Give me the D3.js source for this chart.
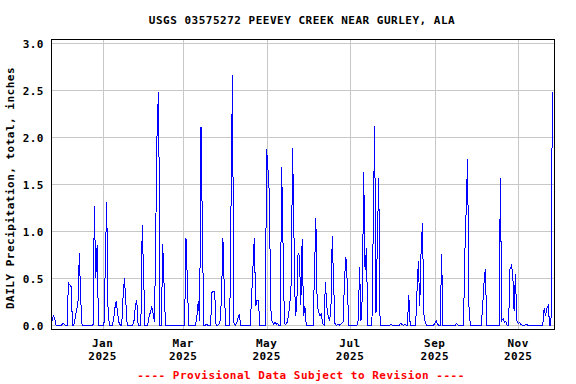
<!DOCTYPE html>
<meta charset="utf-8">
<style>

body {
	margin: 0;
	background-color: #fff;
}

text {
	font-family: "DejaVu Sans Mono", monospace;
	font-weight: bold;
	font-size: 11px;
	letter-spacing: 0.5px;
	fill: #000;
}

.grid line {
	stroke: #c8c8c8;
	stroke-width: 1px;
	shape-rendering: crispEdges;
}

.grid path {
	display: none;
}

.notice {
	fill: #f00;
}

</style>
<body>

<svg width="576" height="384"></svg>

<script src="https://d3js.org/d3.v7.min.js"></script>

<script>

// daily precipitation totals, inches (one array per month, first value = first day shown)
var nov2024 = [0.04, 0.10, 0.07, 0, 0, 0];   // Nov 25 - Nov 30
var dec2024 = [0, 0, 0.02, 0.01, 0, 0, 0.45, 0.43, 0.41, 0,
               0, 0.08, 0.16, 0.25, 0.77, 0.27, 0, 0, 0, 0,
               0, 0, 0, 0, 0, 1.27, 0.5, 0.85, 0, 0, 0];
var jan2025 = [0, 0, 0.65, 1.31, 0.16, 0, 0, 0, 0.05, 0.18,
               0.26, 0.13, 0.03, 0, 0, 0.3, 0.5, 0.25, 0, 0,
               0, 0, 0, 0.05, 0.2, 0.27, 0, 0, 0, 1.07, 0.53];
var feb2025 = [0, 0, 0, 0.09, 0.14, 0.2, 0.12, 0.04, 1.1, 2.2,
               2.48, 0, 0, 0.86, 0.42, 0, 0, 0, 0, 0,
               0, 0, 0, 0, 0, 0, 0, 0];
var mar2025 = [0, 0, 0.93, 0.48, 0, 0, 0, 0, 0, 0,
               0.1, 0.26, 0.05, 2.11, 1.03, 0, 0, 0.01, 0, 0,
               0, 0.35, 0.36, 0.36, 0, 0, 0.01, 0.05, 0.3, 0.93, 0.4];
var apr2025 = [0, 0, 0, 0, 1.33, 2.66, 0.03, 0, 0.02, 0.07,
               0.12, 0, 0, 0, 0, 0, 0, 0, 0, 0.3,
               0.62, 0.93, 0.2, 0.27, 0.26, 0, 0, 0, 0, 0];
var may2025 = [1.87, 1.65, 1.4, 0.18, 0.04, 0.01, 0.03, 0.01, 0.02, 0,
               0, 1.68, 0.86, 0.02, 0.01, 0.03, 0.1, 0.24, 0.45, 1.88,
               0.95, 0.1, 0.18, 0.77, 0.74, 0.21, 0.92, 0.1, 0.2, 0, 0];
var jun2025 = [0, 0, 0, 0, 0.56, 1.14, 0.2, 0.15, 0.1, 0.12,
               0.02, 0, 0.46, 0.2, 0.1, 0.05, 0.15, 0.95, 0.45, 0.02,
               0, 0.01, 0, 0.01, 0.02, 0.04, 0.5, 0.72, 0.45, 0];
var jul2025 = [0, 0, 0, 0, 0, 0, 0.05, 0.62, 0.05, 0.3,
               1.63, 0.59, 0.82, 0, 0, 0, 0, 1.06, 2.12, 0.13,
               0.9, 1.56, 0, 0, 0, 0, 0, 0, 0, 0, 0.01];
var aug2025 = [0, 0, 0, 0, 0, 0, 0.02, 0.01, 0, 0.01,
               0, 0, 0.32, 0, 0, 0, 0, 0, 0.36, 0.68,
               0.2, 0.8, 1.09, 0.12, 0.03, 0, 0, 0, 0, 0, 0];
var sep2025 = [0.02, 0.05, 0.01, 0, 0, 0.76, 0, 0, 0, 0,
               0, 0, 0, 0, 0, 0, 0.02, 0, 0, 0,
               0, 0, 0.76, 1.25, 1.77, 0.2, 0, 0, 0, 0];
var oct2025 = [0, 0, 0, 0, 0, 0.2, 0.45, 0.6, 0, 0,
               0, 0, 0, 0, 0, 0, 0, 0, 1.56, 0.05,
               0.07, 0.03, 0.04, 0, 0, 0.6, 0.63, 0.56, 0.15, 0.54, 0.05];
var nov2025 = [0.02, 0.03, 0.01, 0, 0, 0, 0.01, 0, 0, 0,
               0, 0, 0, 0, 0, 0, 0, 0, 0, 0.18,
               0.1, 0.18, 0.21, 0, 0, 2.48];   // Nov 1 - Nov 26

var firstDay = "2024-11-25";
var xTicks = ["2025-01-01", "2025-03-01", "2025-05-01", "2025-07-01", "2025-09-01", "2025-11-01"];
var yTicks = [0, 0.5, 1.0, 1.5, 2.0, 2.5, 3.0];

var title = "USGS 03575272 PEEVEY CREEK NEAR GURLEY, ALA";
var yTitle = "DAILY Precipitation, total, inches";
var notice = "---- Provisional Data Subject to Revision ----";

var svg = d3.select("svg");

var plotL = 52, plotR = 554, plotT = 39, plotB = 329;

var parse = d3.utcParse("%Y-%m-%d");
var start = parse(firstDay);

var values = [].concat(nov2024, dec2024, jan2025, feb2025, mar2025, apr2025,
                       may2025, jun2025, jul2025, aug2025, sep2025, oct2025, nov2025);
var data = values.map(function(v, i) {
  return {date: d3.utcDay.offset(start, i), value: v};
});

var x = d3.scaleUtc()
    .domain([start, new Date(Date.UTC(2025, 10, 27, 5))])
    .range([plotL, plotR]);

var y = d3.scaleLinear()
    .domain([-0.04, 3.043])
    .range([plotB, plotT]);

// grid
svg.append("g")
    .attr("class", "grid")
    .attr("transform", "translate(0," + plotB + ")")
    .call(d3.axisBottom(x).tickValues(xTicks.map(parse)).tickSize(-(plotB - plotT)).tickFormat(""));

svg.append("g")
    .attr("class", "grid")
    .attr("transform", "translate(" + plotL + ",0)")
    .call(d3.axisLeft(y).tickValues(yTicks).tickSize(-(plotR - plotL)).tickFormat(""));

// data
svg.append("clipPath")
    .attr("id", "plot")
  .append("rect")
    .attr("x", plotL)
    .attr("y", plotT)
    .attr("width", plotR - plotL)
    .attr("height", plotB - plotT);

var line = d3.line()
    .x(function(d) { return x(d.date); })
    .y(function(d) { return y(d.value); });

svg.append("path")
    .datum(data)
    .attr("clip-path", "url(#plot)")
    .attr("fill", "none")
    .attr("stroke", "#0000ff")
    .attr("stroke-width", 1)
    .attr("shape-rendering", "crispEdges")
    .attr("d", line);

// frame
svg.append("rect")
    .attr("x", plotL - 0.5)
    .attr("y", plotT)
    .attr("width", plotR - plotL + 0.5)
    .attr("height", plotB - plotT)
    .attr("fill", "none")
    .attr("stroke", "#000")
    .attr("stroke-width", 1)
    .attr("shape-rendering", "crispEdges");

// y tick labels
svg.selectAll(".ylab")
    .data(yTicks)
  .enter().append("text")
    .attr("class", "ylab")
    .attr("x", 44)
    .attr("y", function(d) { return y(d) + 5; })
    .attr("text-anchor", "end")
    .text(d3.format(".1f"));

// x tick labels
var xl = svg.selectAll(".xlab")
    .data(xTicks.map(parse))
  .enter().append("text")
    .attr("class", "xlab")
    .attr("text-anchor", "middle");

xl.append("tspan")
    .attr("x", function(d) { return x(d); })
    .attr("y", 346.5)
    .text(d3.utcFormat("%b"));

xl.append("tspan")
    .attr("x", function(d) { return x(d); })
    .attr("y", 359.5)
    .text(d3.utcFormat("%Y"));

// titles
svg.append("text")
    .attr("x", 302)
    .attr("y", 23.5)
    .attr("text-anchor", "middle")
    .text(title);

svg.append("text")
    .attr("transform", "translate(13.5," + 188 + ") rotate(-90)")
    .attr("text-anchor", "middle")
    .text(yTitle);

svg.append("text")
    .attr("class", "notice")
    .attr("x", 301)
    .attr("y", 378.5)
    .attr("text-anchor", "middle")
    .text(notice);

</script>
